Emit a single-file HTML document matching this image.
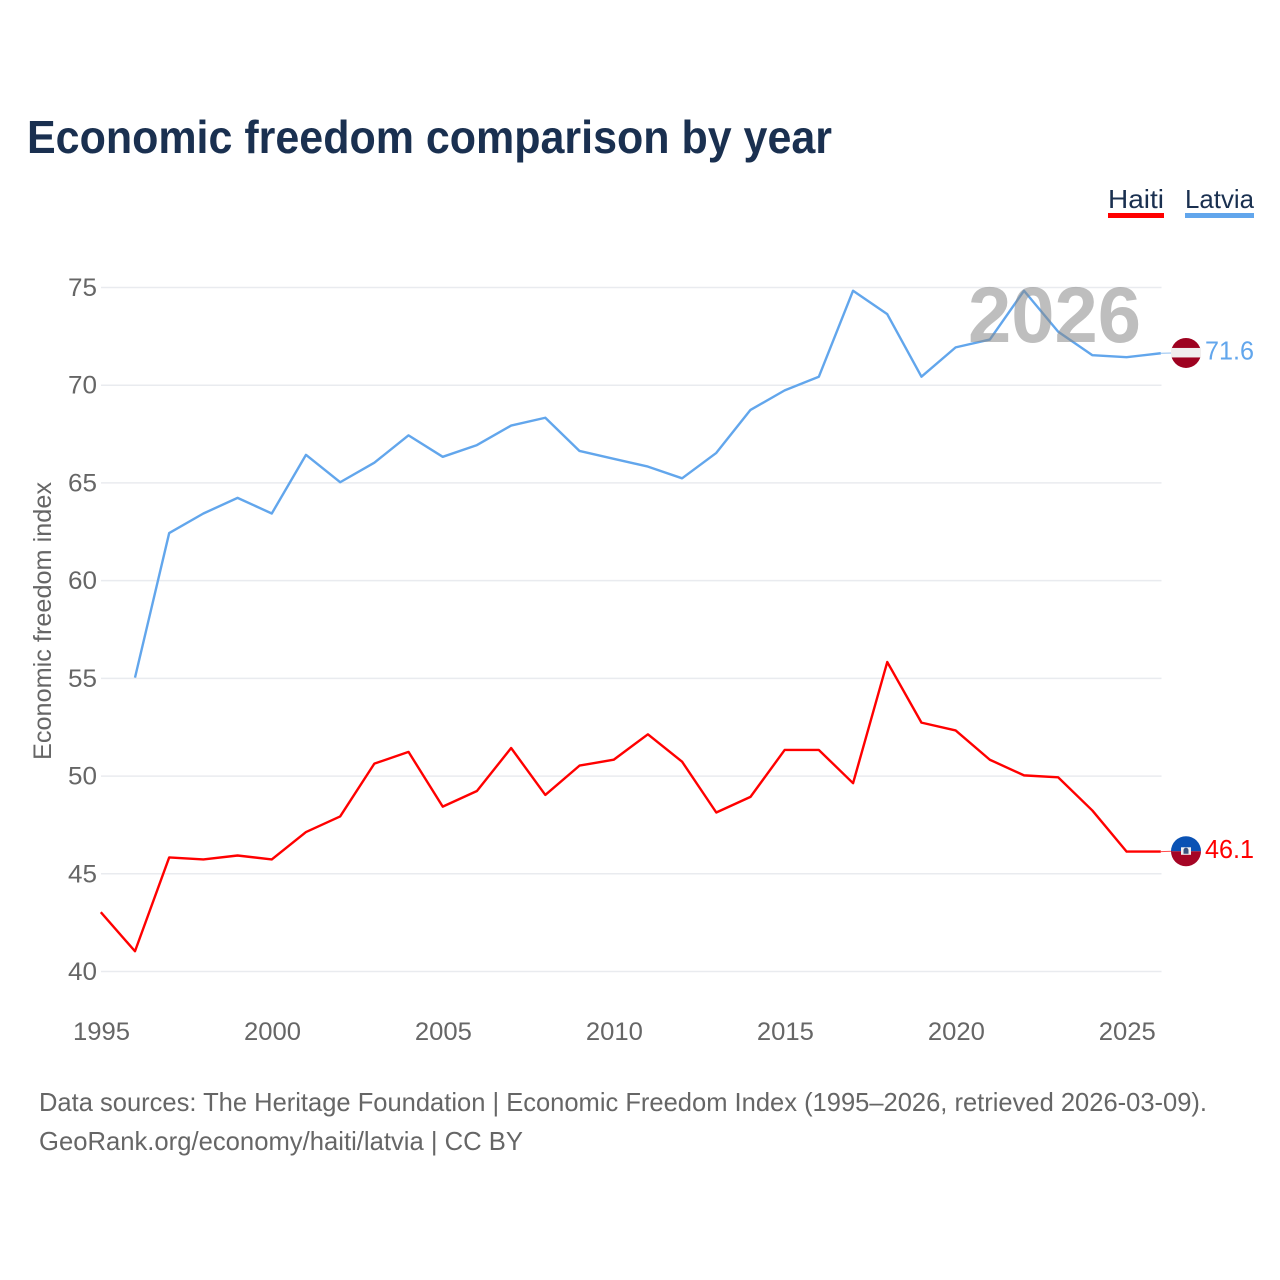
<!DOCTYPE html>
<html lang="en">
<head>
<meta charset="utf-8">
<title>Economic freedom comparison by year</title>
<style>
html,body{margin:0;padding:0;background:#fff;width:1280px;height:1280px;overflow:hidden}
svg{display:block;font-family:"Liberation Sans",sans-serif}
</style>
</head>
<body>
<svg id="chart" width="1280" height="1280" viewBox="0 0 1280 1280" xmlns="http://www.w3.org/2000/svg">
  <rect width="1280" height="1280" fill="#fff"/>
  <text x="27" y="153" font-size="46" font-weight="700" fill="#1a3050" textLength="805" lengthAdjust="spacingAndGlyphs">Economic freedom comparison by year</text>

  <g>
    <g>
      <text x="1108" y="208" font-size="26" fill="#1a3050" textLength="56" lengthAdjust="spacingAndGlyphs">Haiti</text>
      <rect x="1108" y="213" width="56" height="5" fill="#ff0000"/>
    </g>
    <g>
      <text x="1185" y="208" font-size="26" fill="#1a3050" textLength="69" lengthAdjust="spacingAndGlyphs">Latvia</text>
      <rect x="1185" y="213" width="69" height="5" fill="#62a6ec"/>
    </g>
  </g>

  <g id="grid"></g>
  <g id="yticks"></g>
  <g id="xticks"></g>
  <text transform="translate(51 621) rotate(-90)" text-anchor="middle" font-size="25" fill="#666" textLength="278" lengthAdjust="spacingAndGlyphs">Economic freedom index</text>

  <g id="series"></g>
  <text x="968" y="342" font-size="79" font-weight="700" fill="#888" fill-opacity="0.55" textLength="173" lengthAdjust="spacingAndGlyphs">2026</text>
  <g id="ends"></g>

  <text x="39" y="1111" font-size="26" fill="#666" textLength="1168" lengthAdjust="spacingAndGlyphs">Data sources: The Heritage Foundation | Economic Freedom Index (1995–2026, retrieved 2026-03-09).</text>
  <text x="39" y="1150" font-size="26" fill="#666" textLength="484" lengthAdjust="spacingAndGlyphs">GeoRank.org/economy/haiti/latvia | CC BY</text>
</svg>
<script>
const years = [1995,1996,1997,1998,1999,2000,2001,2002,2003,2004,2005,2006,2007,2008,2009,2010,2011,2012,2013,2014,2015,2016,2017,2018,2019,2020,2021,2022,2023,2024,2025,2026];
const haiti = [43,41,45.8,45.7,45.9,45.7,47.1,47.9,50.6,51.2,48.4,49.2,51.4,49.0,50.5,50.8,52.1,50.7,48.1,48.9,51.3,51.3,49.6,55.8,52.7,52.3,50.8,50.0,49.9,48.2,46.1,46.1];
const latvia = [null,55,62.4,63.4,64.2,63.4,66.4,65.0,66.0,67.4,66.3,66.9,67.9,68.3,66.6,66.2,65.8,65.2,66.5,68.7,69.7,70.4,74.8,73.6,70.4,71.9,72.3,74.8,72.7,71.5,71.4,71.6];
const yTickValues = [40,45,50,55,60,65,70,75];
const xTickValues = [1995,2000,2005,2010,2015,2020,2025];

const NS = 'http://www.w3.org/2000/svg';
const x = function (year) { return 101.5 + (year - 1995) * (1161.5 - 101.5) / 31; };
const y = function (value) { return 971.5 - (value - 40) * (971.5 - 287.5) / 35; };
function make(tag, attrs, parent) {
  const el = document.createElementNS(NS, tag);
  for (const k in attrs) el.setAttribute(k, attrs[k]);
  parent.appendChild(el);
  return el;
}

const grid = document.getElementById('grid');
const yticks = document.getElementById('yticks');
const xticks = document.getElementById('xticks');
const seriesGroup = document.getElementById('series');
const ends = document.getElementById('ends');

yTickValues.forEach(function (v) {
  const line = make('line', {x1: 101, x2: 1161.5, y1: y(v), y2: y(v), stroke: '#e9ebef', 'stroke-width': 1.5}, grid);
  
  
  const label = make('text', {x: 97, y: y(v) + 8.5, 'text-anchor': 'end', 'font-size': 25, fill: '#666', textLength: 29, lengthAdjust: 'spacingAndGlyphs'}, yticks);
  label.textContent = v;
  
  
});

xTickValues.forEach(function (v) {
  const label = make('text', {x: x(v), y: 1040, 'text-anchor': 'middle', 'font-size': 25, fill: '#666', textLength: 57, lengthAdjust: 'spacingAndGlyphs'}, xticks);
  label.textContent = v;
  
  
});

function drawLine(values, color, name) {
  let d = '';
  values.forEach(function (v, i) {
    if (v === null) return;
    d += (d ? 'L' : 'M') + (x(years[i]) - 0.7).toFixed(2) + ' ' + (y(v) - 0.7).toFixed(2);
  });
  const path = make('path', {d: d, fill: 'none', stroke: color, 'stroke-width': 2.4, 'stroke-linejoin': 'round'}, seriesGroup);
  
  
}
drawLine(haiti, '#ff0000', 'line-haiti');
drawLine(latvia, '#62a6ec', 'line-latvia');

function drawEnd(values, color, name, painter) {
  const v = values[values.length - 1];
  const cy = y(v) - 1;
  const link = make('line', {x1: 1161, x2: 1172, y1: y(v) - 0.7, y2: cy, stroke: color, 'stroke-width': 1, opacity: 0.7}, ends);
  
  
  const flag = make('g', {}, ends);
  
  
  painter(flag, 1186, cy);
  const label = make('text', {x: 1205, y: cy + 6.5, 'font-size': 26, fill: color, textLength: 49, lengthAdjust: 'spacingAndGlyphs'}, ends);
  label.textContent = v.toFixed(1);
  
  
}
function latviaFlag(g, cx, cy) {
  make('circle', {cx: cx, cy: cy, r: 15, fill: '#9e0220'}, g);
  make('rect', {x: cx - 15, y: cy - 5, width: 30, height: 9.5, fill: '#f1eeee'}, g);
}
function haitiFlag(g, cx, cy) {
  make('path', {d: 'M' + (cx - 15) + ' ' + cy + 'A15 15 0 0 1 ' + (cx + 15) + ' ' + cy + 'Z', fill: '#0a52b4'}, g);
  make('path', {d: 'M' + (cx - 15) + ' ' + cy + 'A15 15 0 0 0 ' + (cx + 15) + ' ' + cy + 'Z', fill: '#a50525'}, g);
  make('rect', {x: cx - 5, y: cy - 4, width: 10, height: 7.5, fill: '#f1f1f1'}, g);
  make('path', {d: 'M' + (cx - 2.5) + ' ' + (cy + 2.5) + 'V' + (cy - 1) + 'A2.5 2.5 0 0 1 ' + (cx + 2.5) + ' ' + (cy - 1) + 'V' + (cy + 2.5) + 'Z', fill: '#39527f'}, g);
}
drawEnd(latvia, '#62a6ec', 'latvia', latviaFlag);
drawEnd(haiti, '#ff0000', 'haiti', haitiFlag);
</script>
</body>
</html>
